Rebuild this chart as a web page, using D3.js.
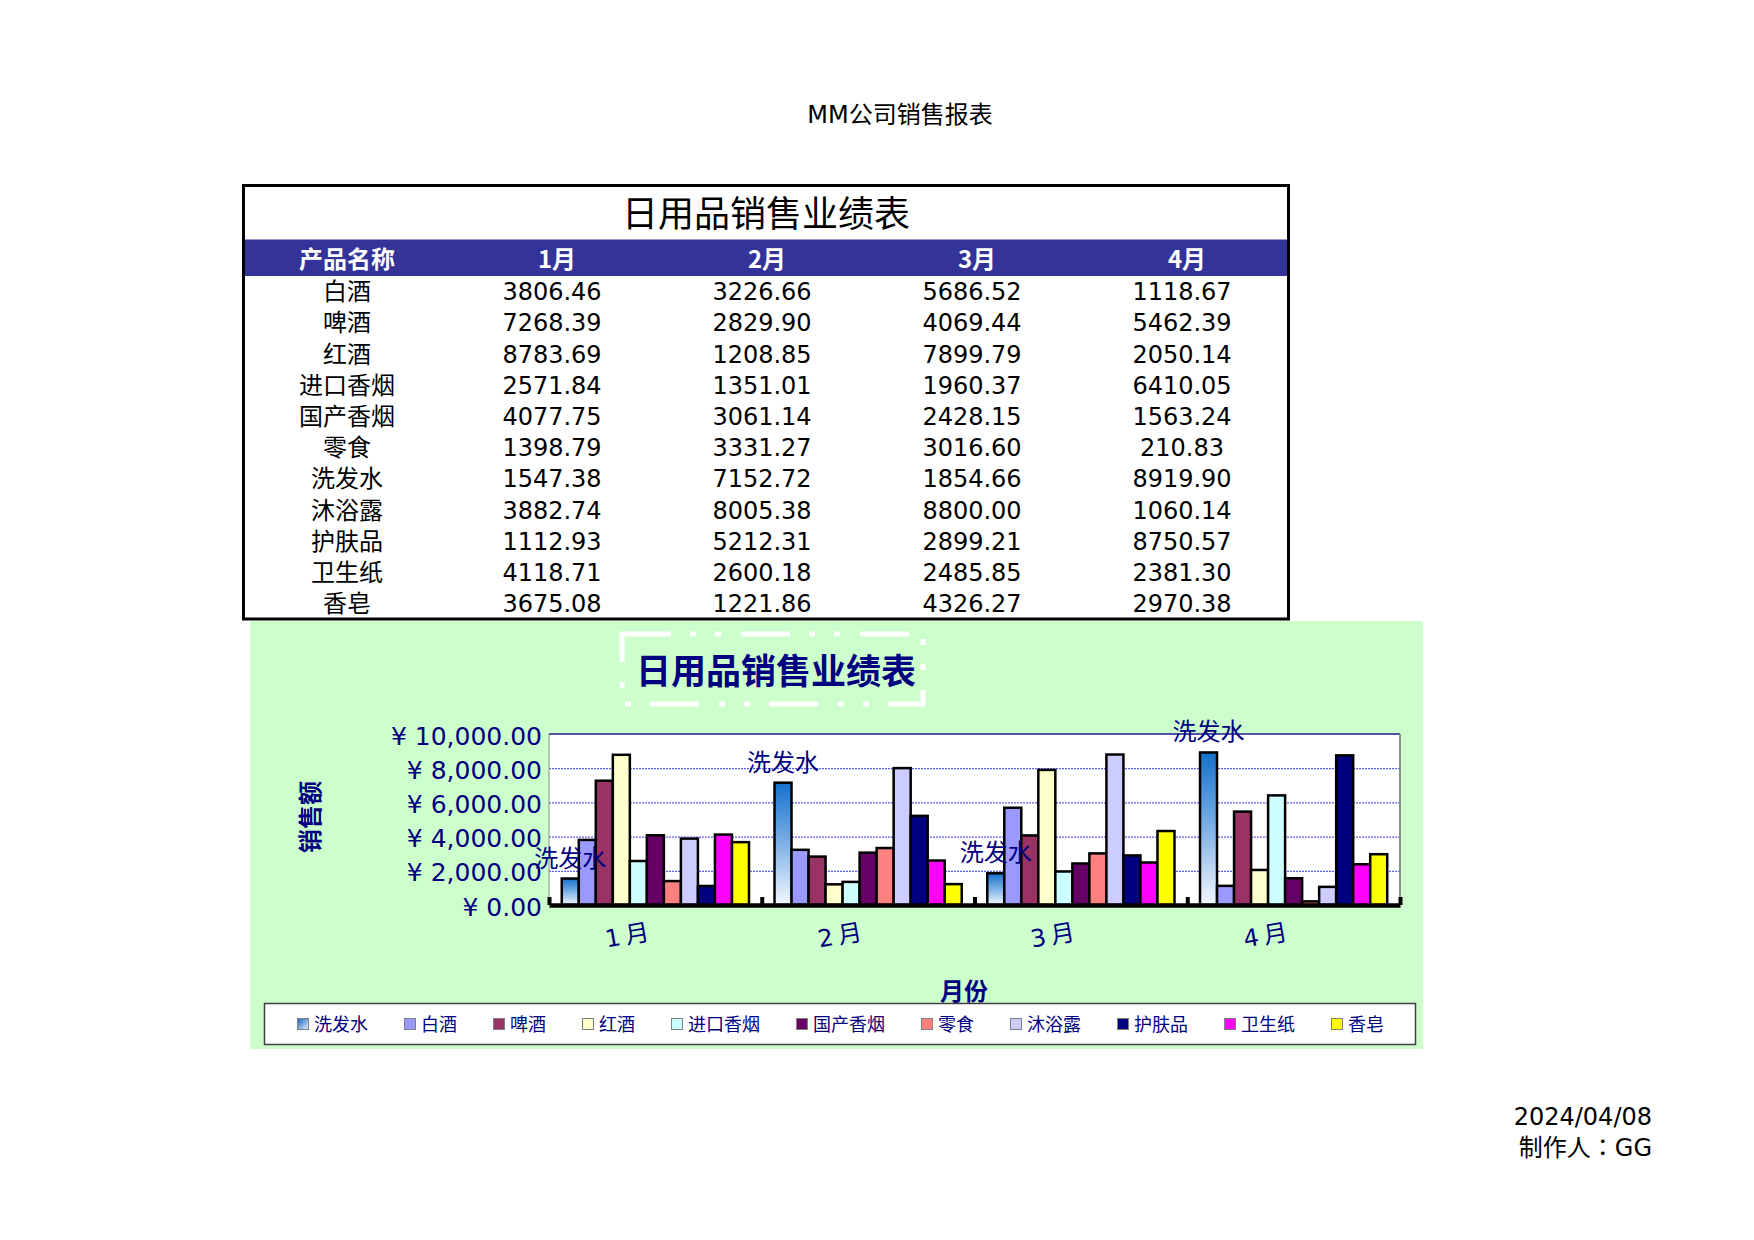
<!DOCTYPE html>
<html>
<head>
<meta charset="utf-8">
<script src="https://cdn.jsdelivr.net/npm/d3@7"></script>
<style>
  html, body { margin: 0; padding: 0; background: #fff; }
  svg { display: block; }
</style>
</head>
<body>
<div id="chart"></div>
<script>
// 表格資料
const months = ["1月", "2月", "3月", "4月"];
const products = ["白酒", "啤酒", "红酒", "进口香烟", "国产香烟", "零食", "洗发水", "沐浴露", "护肤品", "卫生纸", "香皂"];
const jan = [3806.46, 7268.39, 8783.69, 2571.84, 4077.75, 1398.79, 1547.38, 3882.74, 1112.93, 4118.71, 3675.08];
const feb = [3226.66, 2829.90, 1208.85, 1351.01, 3061.14, 3331.27, 7152.72, 8005.38, 5212.31, 2600.18, 1221.86];
const mar = [5686.52, 4069.44, 7899.79, 1960.37, 2428.15, 3016.60, 1854.66, 8800.00, 2899.21, 2485.85, 4326.27];
const apr = [1118.67, 5462.39, 2050.14, 6410.05, 1563.24, 210.83, 8919.90, 1060.14, 8750.57, 2381.30, 2970.38];

// 圖表的系列順序與顏色
const seriesOrder = ["洗发水", "白酒", "啤酒", "红酒", "进口香烟", "国产香烟", "零食", "沐浴露", "护肤品", "卫生纸", "香皂"];
const seriesColors = ["url(#grad-bar)", "#9999FF", "#993366", "#FFFFCC", "#CCFFFF", "#660066", "#FF8080", "#CCCCFF", "#000080", "#FF00FF", "#FFFF00"];
const yTicks = [0, 2000, 4000, 6000, 8000, 10000];
const labelSeries = "洗发水";

const monthly = [jan, feb, mar, apr];
const NAVY = "#000080";
const CJK = "'Noto Sans CJK SC', sans-serif";
const MIX = "'DejaVu Sans', 'Noto Sans CJK SC', sans-serif";

const svg = d3.select("#chart").append("svg")
  .attr("width", 1754)
  .attr("height", 1240);

const defs = svg.append("defs");
const g1 = defs.append("linearGradient").attr("id", "grad-bar")
  .attr("x1", 0).attr("y1", 0).attr("x2", 0).attr("y2", 1);
g1.append("stop").attr("offset", "0%").attr("stop-color", "#1470CC");
g1.append("stop").attr("offset", "50%").attr("stop-color", "#7EB1E6");
g1.append("stop").attr("offset", "100%").attr("stop-color", "#F4F8FF");
const g2 = defs.append("linearGradient").attr("id", "grad-leg")
  .attr("x1", 0).attr("y1", 0).attr("x2", 1).attr("y2", 1);
g2.append("stop").attr("offset", "0%").attr("stop-color", "#0F5FBF");
g2.append("stop").attr("offset", "100%").attr("stop-color", "#EAF2FF");

// 頁首標題
svg.append("text")
  .attr("x", 900).attr("y", 123)
  .attr("text-anchor", "middle")
  .style("font-family", MIX).style("font-size", "24px")
  .text("MM公司销售报表");

// ---------- 表格 ----------
const cols = d3.scaleBand().domain(["产品名称", ...months]).range([242, 1292]);
const rows = d3.scaleBand().domain(products).range([275.4, 619.1]);

const gTable = svg.append("g").attr("class", "table");

gTable.append("rect")
  .attr("x", 243).attr("y", 239).attr("width", 1046).attr("height", 37)
  .attr("fill", "#333399");
gTable.append("line")
  .attr("x1", 243).attr("x2", 1289).attr("y1", 239.5).attr("y2", 239.5)
  .attr("stroke", "#9a9ad0").attr("stroke-width", 1);

gTable.append("text")
  .attr("x", 766).attr("y", 227)
  .attr("text-anchor", "middle")
  .style("font-family", CJK).style("font-size", "36px")
  .text("日用品销售业绩表");

gTable.selectAll("text.head")
  .data(cols.domain())
  .join("text")
  .attr("class", "head")
  .attr("x", d => cols(d) + cols.bandwidth() / 2)
  .attr("y", 268)
  .attr("text-anchor", "middle")
  .attr("fill", "#fff")
  .style("font-family", CJK).style("font-size", "24px").style("font-weight", 700)
  .text(d => d);

const rowG = gTable.selectAll("g.row")
  .data(products)
  .join("g")
  .attr("class", "row")
  .attr("transform", d => `translate(0, ${rows(d) + rows.bandwidth() / 2 + 9})`);

rowG.append("text")
  .attr("x", cols("产品名称") + cols.bandwidth() / 2)
  .attr("text-anchor", "middle")
  .style("font-family", CJK).style("font-size", "24px")
  .text(d => d);

months.forEach((m, mi) => {
  rowG.append("text")
    .attr("x", cols(m) + cols.bandwidth() / 2 - 5)
    .attr("text-anchor", "middle")
    .style("font-family", MIX).style("font-size", "24px")
    .text((d, i) => monthly[mi][i].toFixed(2));
});

gTable.append("rect")
  .attr("x", 243.5).attr("y", 185.5).attr("width", 1045).attr("height", 433.5)
  .attr("fill", "none").attr("stroke", "#000").attr("stroke-width", 3);

// ---------- 圖表 ----------
const gChart = svg.append("g").attr("class", "chart");

gChart.append("rect")
  .attr("x", 250).attr("y", 621).attr("width", 1173).attr("height", 428)
  .attr("fill", "#CCFFCC");

// 標題與虛線框
gChart.append("rect")
  .attr("x", 622).attr("y", 634).attr("width", 301).attr("height", 70)
  .attr("fill", "none").attr("stroke", "#fff").attr("stroke-width", 5)
  .attr("stroke-dasharray", "49,19,6,19,6,20");
gChart.append("text")
  .attr("x", 776).attr("y", 684)
  .attr("text-anchor", "middle")
  .attr("fill", NAVY)
  .style("font-family", CJK).style("font-size", "35px").style("font-weight", 700)
  .text("日用品销售业绩表");

const plot = { left: 549, right: 1400, top: 734, bottom: 905 };

const x0 = d3.scaleBand().domain(months)
  .range([plot.left, plot.right])
  .paddingInner(0.12).paddingOuter(0.06);
const x1 = d3.scaleBand().domain(seriesOrder).range([0, x0.bandwidth()]);
const y = d3.scaleLinear().domain([0, 10000]).range([plot.bottom, plot.top]);
const color = d3.scaleOrdinal().domain(seriesOrder).range(seriesColors);

gChart.append("rect")
  .attr("x", plot.left).attr("y", plot.top)
  .attr("width", plot.right - plot.left).attr("height", plot.bottom - plot.top)
  .attr("fill", "#fff");

// 格線
gChart.append("g")
  .attr("class", "grid")
  .attr("transform", `translate(${plot.left},0)`)
  .call(d3.axisLeft(y).tickValues([2000, 4000, 6000, 8000])
    .tickSize(-(plot.right - plot.left)).tickFormat(""))
  .call(g => g.select(".domain").remove())
  .call(g => g.selectAll("line")
    .attr("stroke", "#3535F5").attr("stroke-width", 1).attr("stroke-dasharray", "2,1"));

// 上、右、左邊框
gChart.append("line")
  .attr("x1", plot.left).attr("x2", plot.right).attr("y1", plot.top).attr("y2", plot.top)
  .attr("stroke", "#5252A8").attr("stroke-width", 2);
gChart.append("line")
  .attr("x1", plot.right).attr("x2", plot.right).attr("y1", plot.top).attr("y2", plot.bottom)
  .attr("stroke", "#8c8c8c").attr("stroke-width", 2);
gChart.append("line")
  .attr("x1", plot.left).attr("x2", plot.left).attr("y1", plot.top).attr("y2", plot.bottom)
  .attr("stroke", "#8c8c8c").attr("stroke-width", 1);

// 長條
const barData = months.map((m, mi) => ({
  month: m,
  values: seriesOrder.map(s => ({ series: s, month: m, value: monthly[mi][products.indexOf(s)] }))
}));

gChart.append("g")
  .attr("class", "bars")
  .selectAll("g")
  .data(barData)
  .join("g")
  .attr("transform", d => `translate(${x0(d.month)},0)`)
  .selectAll("rect")
  .data(d => d.values)
  .join("rect")
  .attr("x", d => x1(d.series))
  .attr("y", d => y(d.value))
  .attr("width", x1.bandwidth())
  .attr("height", d => y(0) - y(d.value))
  .attr("fill", d => color(d.series))
  .attr("stroke", "#000")
  .attr("stroke-width", 2.5);

// 底部座標軸（分隔刻度向上）
const xEdge = d3.scaleLinear().domain([0, months.length]).range([plot.left, plot.right]);
gChart.append("g")
  .attr("class", "x-edge")
  .attr("transform", `translate(0,${plot.bottom})`)
  .call(d3.axisBottom(xEdge).ticks(months.length).tickSize(-8).tickSizeOuter(0).tickFormat(""))
  .call(g => g.select(".domain").attr("stroke", "#000").attr("stroke-width", 4.5))
  .call(g => g.selectAll(".tick line").attr("stroke", "#000").attr("stroke-width", 4));

// Y 軸標籤
gChart.append("g")
  .attr("class", "y-axis")
  .attr("transform", `translate(${plot.left},0)`)
  .call(d3.axisLeft(y).tickValues(yTicks).tickSize(0).tickPadding(7)
    .tickFormat(d => "¥ " + d3.format(",.2f")(d)))
  .call(g => g.select(".domain").remove())
  .call(g => g.selectAll("text")
    .attr("dy", "0.4em")
    .attr("fill", NAVY)
    .style("font-family", MIX).style("font-size", "25px"));

// X 軸標籤（略微傾斜）
gChart.append("g")
  .attr("class", "x-labels")
  .selectAll("text")
  .data(months)
  .join("text")
  .attr("transform", d => `translate(${x0(d) + x0.bandwidth() / 2},939) rotate(-10)`)
  .attr("text-anchor", "end")
  .attr("fill", NAVY)
  .style("font-family", MIX).style("font-size", "24px").style("letter-spacing", "5px")
  .text(d => d);

// 資料標籤
gChart.append("g")
  .attr("class", "data-labels")
  .selectAll("text")
  .data(barData.map(d => d.values.find(v => v.series === labelSeries)))
  .join("text")
  .attr("x", d => x0(d.month) + x1(d.series) + x1.bandwidth() / 2)
  .attr("y", d => y(d.value) - 12)
  .attr("text-anchor", "middle")
  .attr("fill", NAVY)
  .style("font-family", CJK).style("font-size", "24px")
  .text(d => d.series);

// 軸標題
gChart.append("text")
  .attr("transform", "translate(310,817) rotate(-90)")
  .attr("y", 9)
  .attr("text-anchor", "middle")
  .attr("fill", NAVY)
  .style("font-family", CJK).style("font-size", "24px").style("font-weight", 700)
  .text("销售额");
gChart.append("text")
  .attr("x", 964).attr("y", 1000)
  .attr("text-anchor", "middle")
  .attr("fill", NAVY)
  .style("font-family", CJK).style("font-size", "24px").style("font-weight", 700)
  .text("月份");

// 圖例
gChart.append("rect")
  .attr("x", 264.5).attr("y", 1003.5).attr("width", 1151).attr("height", 41)
  .attr("fill", "#fff").attr("stroke", "#404040").attr("stroke-width", 1.5);

const gLegend = gChart.append("g").attr("class", "legend");
let lx = 297;
seriesOrder.forEach((s, i) => {
  const item = gLegend.append("g").attr("transform", `translate(${lx},0)`);
  item.append("rect")
    .attr("x", 0.5).attr("y", 1018.5).attr("width", 11).attr("height", 11)
    .attr("fill", i === 0 ? "url(#grad-leg)" : color(s))
    .attr("stroke", "#808080").attr("stroke-width", 1);
  const t = item.append("text")
    .attr("x", 17).attr("y", 1031)
    .attr("fill", NAVY)
    .style("font-family", CJK).style("font-size", "18px")
    .text(s);
  lx += 17 + t.node().getComputedTextLength() + 36;
});

// 頁尾
svg.append("text")
  .attr("x", 1652).attr("y", 1125)
  .attr("text-anchor", "end")
  .style("font-family", MIX).style("font-size", "24px")
  .text("2024/04/08");
svg.append("text")
  .attr("x", 1652).attr("y", 1156)
  .attr("text-anchor", "end")
  .style("font-family", "'DejaVu Sans', 'Noto Sans CJK JP', sans-serif").style("font-size", "24px")
  .text("制作人：GG");
</script>
</body>
</html>
